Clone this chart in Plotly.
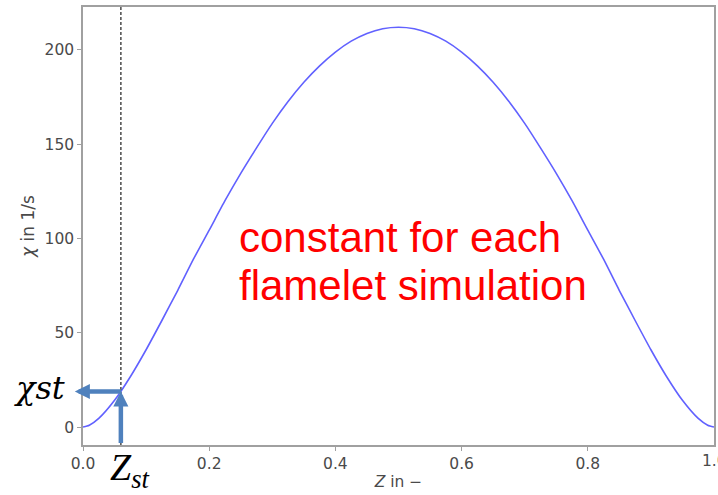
import plotly.graph_objects as go

# Mixture fraction Z and scalar dissipation rate chi
z_values = [0.0, 0.01, 0.025, 0.05, 0.075, 0.1, 0.125, 0.15, 0.175, 0.2, 0.225, 0.25,
            0.275, 0.3, 0.325, 0.35, 0.375, 0.4, 0.425, 0.45, 0.475, 0.5,
            0.525, 0.55, 0.575, 0.6, 0.625, 0.65, 0.675, 0.7, 0.725, 0.75,
            0.775, 0.8, 0.825, 0.85, 0.875, 0.9, 0.925, 0.95, 0.975, 0.99, 1.0]
chi_values = [0.0, 1.0, 4.6, 14.2, 26.7, 41.0, 56.5, 72.4, 89.0, 104.4, 120.0, 134.5,
              148.0, 161.0, 172.6, 182.8, 191.5, 198.8, 204.6, 208.7, 211.2, 212.0,
              211.2, 208.7, 204.6, 198.8, 191.5, 182.8, 172.6, 161.0, 148.0, 134.5,
              120.0, 104.4, 89.0, 72.4, 56.5, 41.0, 26.7, 14.2, 4.6, 1.0, 0.0]

z_st = 0.06
chi_st = 18.9

x_ticks = [0.0, 0.2, 0.4, 0.6, 0.8]
x_tick_labels = ["0.0", "0.2", "0.4", "0.6", "0.8"]
x_last_tick = 1.0
x_last_label = "1.0"
y_ticks = [0, 50, 100, 150, 200]

annotation_lines = ["constant for each", "flamelet simulation"]

ARROW = "#4f81bd"
AXIS = "#a0a0a0"
TICKFONT = dict(family="DejaVu Sans", size=15.5, color="#4a4a4a")

fig = go.Figure()
fig.add_trace(go.Scatter(
    x=z_values, y=chi_values, mode="lines",
    line=dict(color="#6161ff", width=1.6, shape="spline", smoothing=0.6),
    showlegend=False, hoverinfo="skip",
))

fig.add_shape(type="line", xref="x", yref="paper", x0=z_st, x1=z_st, y0=0, y1=1,
              line=dict(color="#555555", width=1.6, dash="3px,2px"))

# arrows
fig.add_annotation(x=z_st, y=chi_st, xref="x", yref="y", ax=0, ay=53,
                   showarrow=True, arrowhead=2, arrowwidth=4.5, arrowsize=0.67,
                   arrowcolor=ARROW, text="")
fig.add_annotation(x=-0.013, y=chi_st, xref="paper", yref="y", ax=48, ay=0,
                   showarrow=True, arrowhead=2, arrowwidth=4.5, arrowsize=0.67,
                   arrowcolor=ARROW, text="")

# labels for Z_st and chi_st
fig.add_annotation(x=-0.025, y=0.130, xref="paper", yref="paper", xanchor="right",
                   yanchor="middle", showarrow=False,
                   text="<i>χ</i><i>st</i>",
                   font=dict(family="DejaVu Serif", size=32, color="black"))
fig.add_annotation(x=0.074, y=-0.056, xref="paper", yref="paper", xanchor="center",
                   yanchor="middle", showarrow=False,
                   text="<i>Z</i><sub><i>st</i></sub>",
                   font=dict(family="Liberation Serif", size=38, color="black"))

# last x tick label (cut by the right edge as in the original)
fig.add_annotation(x=x_last_tick, y=0, xref="x", yref="paper", xanchor="center",
                   yanchor="top", yshift=-5, showarrow=False, text=x_last_label,
                   font=TICKFONT)

# red text
fig.add_annotation(x=0.2433, y=0.4737, xref="paper", yref="paper", xanchor="left",
                   yanchor="middle", showarrow=False, text=annotation_lines[0],
                   font=dict(family="Liberation Sans", size=42, color="#ff0000"))
fig.add_annotation(x=0.2433, y=0.3642, xref="paper", yref="paper", xanchor="left",
                   yanchor="middle", showarrow=False, text=annotation_lines[1],
                   font=dict(family="Liberation Sans", size=42, color="#ff0000"))

fig.update_layout(
    width=718, height=495,
    margin=dict(l=83, r=2, t=7, b=50),
    paper_bgcolor="white", plot_bgcolor="white",
    xaxis=dict(range=[0, 1], tickvals=x_ticks, ticktext=x_tick_labels,
               showgrid=False, zeroline=False, showline=True, mirror=True,
               linecolor=AXIS, linewidth=1.5, ticks="outside", ticklen=4,
               tickcolor=AXIS, tickfont=TICKFONT,
               title=dict(text="<i>Z</i> in −", font=TICKFONT, standoff=4)),
    yaxis=dict(range=[-9.5, 222.7], tickvals=y_ticks,
               showgrid=False, zeroline=False, showline=True, mirror=True,
               linecolor=AXIS, linewidth=1.5, ticks="outside", ticklen=4,
               tickcolor=AXIS, tickfont=TICKFONT,
               title=dict(text="<i>χ</i> in 1/s", font=dict(family="DejaVu Sans", size=17, color="#4a4a4a"), standoff=6)),
)

fig.write_html("out.html")
